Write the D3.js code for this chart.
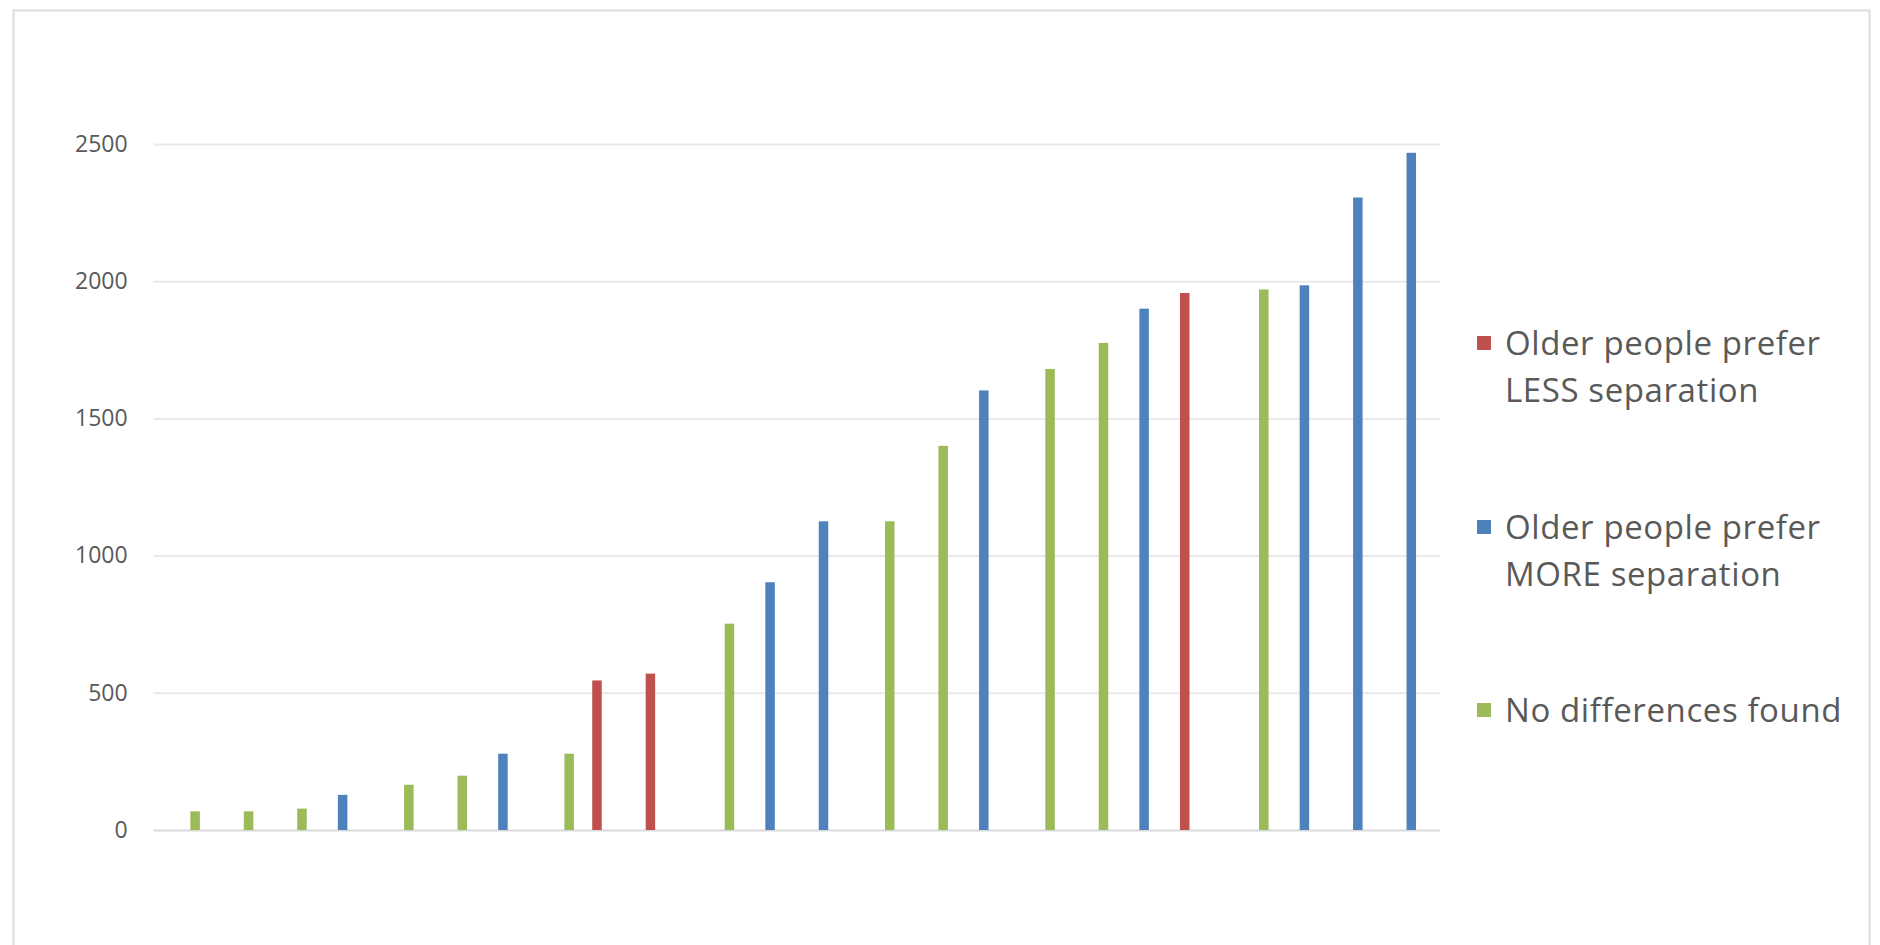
<!DOCTYPE html>
<html>
<head>
<meta charset="utf-8">
<script src="https://cdn.jsdelivr.net/npm/d3@7"></script>
<style>
  html, body { margin: 0; padding: 0; background: #ffffff; }
  svg { display: block; }
  text { font-family: "Open Sans", "Noto Sans", sans-serif; fill: #595959; }
</style>
</head>
<body>
<svg id="chart" width="1880" height="945"></svg>
<script>
// Studies, ordered by sample size
const categories = ["1","2","3","4","5","6","7","8","9","10","11","12",
                    "13","14","15","16","17","18","19","20","21","22","23","24"];

const seriesNames = [
  "Older people prefer LESS separation",
  "Older people prefer MORE separation",
  "No differences found"
];
const seriesColors = ["#c0504d", "#4f81bd", "#9bbb59"];

// One value per study; each study falls in exactly one series
const lessSeparation = [null, null, null, null, null, null, null, null, 545, 570, null, null,
                        null, null, null, null, null, null, null, 1957, null, null, null, null];
const moreSeparation = [null, null, null, 128, null, null, 278, null, null, null, null, 903,
                        1125, null, null, 1602, null, null, 1900, null, null, 1985, 2305, 2468];
const noDifferences  = [68, 68, 78, null, 165, 198, null, 278, null, null, 752, null,
                        null, 1125, 1400, null, 1680, 1775, null, null, 1970, null, null, null];

const yTicks = [0, 500, 1000, 1500, 2000, 2500];

const legendLines = [
  ["Older people prefer", "LESS separation"],
  ["Older people prefer", "MORE separation"],
  ["No differences found"]
];

// ---- layout ----
const svg = d3.select("#chart");
const plot = { left: 155.6, right: 1438, top: 144, bottom: 830 };
const barWidth = 9.5;

// outer chart frame
svg.append("rect")
  .attr("x", 13.5).attr("y", 10.5)
  .attr("width", 1856).attr("height", 960)
  .attr("fill", "#ffffff")
  .attr("stroke", "#dcdcdc")
  .attr("stroke-width", 2);

const y = d3.scaleLinear().domain([0, 2500]).range([plot.bottom, plot.top]);
const x0 = d3.scaleBand().domain(categories).range([plot.left, plot.right]).padding(0);
const x1 = d3.scalePoint().domain(seriesNames).range([-12.8, 12.8]);
const color = d3.scaleOrdinal().domain(seriesNames).range(seriesColors);

// gridlines and value labels
const yAxis = d3.axisLeft(y)
  .tickValues(yTicks)
  .tickSize(-(plot.right - plot.left + 4))
  .tickPadding(26)
  .tickFormat(d3.format("d"));

const gy = svg.append("g")
  .attr("transform", `translate(${plot.left - 2},0)`)
  .call(yAxis);
gy.select(".domain").remove();
gy.selectAll(".tick line")
  .attr("stroke", (d) => d === 0 ? "#d9d9d9" : "#e9e9e9")
  .attr("stroke-width", 2);
gy.selectAll(".tick text")
  .attr("font-size", 23)
  .attr("fill", "#595959")
  .style("font-family", '"Open Sans", "Noto Sans", sans-serif');

// bars
const seriesData = [lessSeparation, moreSeparation, noDifferences];
const bars = [];
seriesData.forEach((vals, si) => {
  vals.forEach((v, ci) => {
    if (v != null) bars.push({ series: seriesNames[si], category: categories[ci], value: v });
  });
});

svg.append("g")
  .selectAll("rect")
  .data(bars)
  .join("rect")
  .attr("x", d => x0(d.category) + x0.bandwidth() / 2 + x1(d.series) - barWidth / 2)
  .attr("y", d => y(d.value))
  .attr("width", barWidth)
  .attr("height", d => y(0) - y(d.value))
  .attr("fill", d => color(d.series));

// legend
const legendY = [343, 527, 710];
const legend = svg.append("g");
seriesNames.forEach((name, i) => {
  const g = legend.append("g").attr("transform", `translate(1477,${legendY[i]})`);
  g.append("rect")
    .attr("x", 0).attr("y", -7)
    .attr("width", 14).attr("height", 14)
    .attr("fill", color(name));
  legendLines[i].forEach((line, li) => {
    g.append("text")
      .attr("x", 28)
      .attr("y", li * 47)
      .attr("dy", "0.35em")
      .attr("font-size", 33)
      .attr("letter-spacing", 0.6)
      .text(line);
  });
});
</script>
</body>
</html>
